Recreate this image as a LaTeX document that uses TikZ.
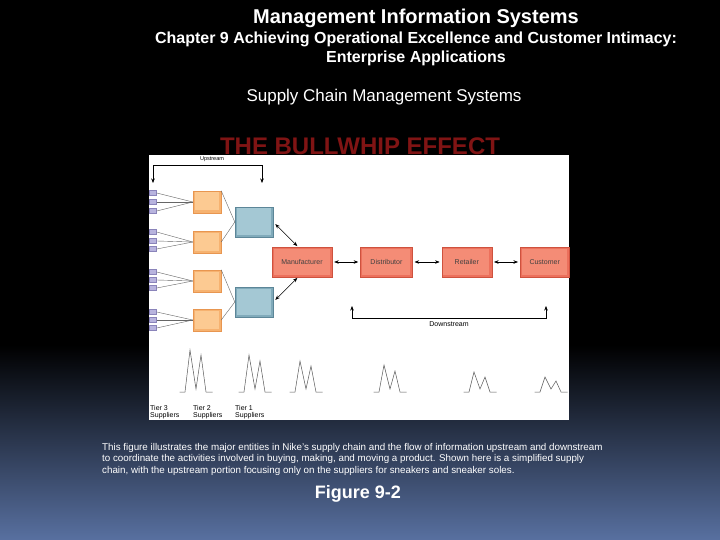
\documentclass[tikz,border=0pt]{standalone}
\usepackage{fontspec}
\setmainfont{Liberation Sans}
\usetikzlibrary{
    positioning,
    arrows.meta
}
\definecolor{partedge}{RGB}{138,132,186}
\definecolor{partfill}{RGB}{184,180,222}
\definecolor{supedge}{RGB}{232,150,80}
\definecolor{supfill}{RGB}{246,178,112}
\definecolor{supface}{RGB}{252,202,146}
\definecolor{makeedge}{RGB}{92,134,152}
\definecolor{makefill}{RGB}{128,170,186}
\definecolor{makeface}{RGB}{164,200,212}
\definecolor{chainedge}{RGB}{206,82,62}
\definecolor{chainfill}{RGB}{236,112,92}
\definecolor{chainface}{RGB}{244,140,118}
\definecolor{slidebottom}{RGB}{88,112,160}
\definecolor{bullred}{RGB}{128,20,20}
\tikzset{bevel/.style n args={3}{
    draw=#1,
    fill=#2,
    inner sep=0pt,
    path picture={\fill[#3]
        ([shift={(1.5pt,-1.5pt)}]path picture bounding box.north west) rectangle
        ([shift={(-2.5pt,2.5pt)}]path picture bounding box.south east);}
}}
\tikzset{arrow/.style={<->,>={Stealth[length=4.5pt,width=3.5pt]},line width=0.5pt}}

\begin{document}
\begin{tikzpicture}[
            x=1pt, y=-1pt,
            font=\fontsize{7}{7.5}\selectfont,
            part/.style={draw=partedge, fill=partfill, minimum width=7pt, minimum height=5pt, inner sep=0pt},
            supplier/.style={bevel={supedge}{supfill}{supface}, minimum width=28pt, minimum height=22pt},
            maker/.style={bevel={makeedge}{makefill}{makeface}, minimum width=38pt, minimum height=30pt},
            stage/.style={bevel={chainedge}{chainfill}{chainface}, minimum height=30pt, text=black!75},
            link/.style={draw=black!60, line width=0.4pt},
            wave/.style={draw=black!65, line width=0.5pt},
            slide/.style={text=white, align=center},
    ]
        \useasboundingbox (0,0) rectangle (720,540);

        % slide background
        \fill[black] (0,0) rectangle (720,346);
        \shade[top color=black, bottom color=slidebottom] (0,345) rectangle (720,540);

        % headings
        \node[slide, font=\bfseries\fontsize{20}{22}\selectfont] (title) at (416,18) {Management Information Systems};
        \node[slide, font=\bfseries\fontsize{16}{19}\selectfont] (chapter) at (416,48.5)
            {Chapter 9 Achieving Operational Excellence and Customer Intimacy:\\Enterprise Applications};
        \node[slide, font=\fontsize{17}{19}\selectfont] (section) at (384,97) {Supply Chain Management Systems};
        \node[text=bullred, font=\bfseries\fontsize{24}{26}\selectfont] (bullwhip) at (360,146) {THE BULLWHIP EFFECT};

        % figure panel
        \fill[white] (149,155) rectangle (569,420);

        % tier 1 and tier 2 suppliers
        \node[maker] (t1a) at (254,222) {};
        \node[maker] (t1b) at (254,302) {};
        \node[supplier] (t2a) at (207,202) {};
        \node[supplier] (t2b) at (207,242) {};
        \node[supplier] (t2c) at (207,281) {};
        \node[supplier] (t2d) at (207,320) {};

        % tier 3 suppliers
        \foreach \grp/\ya/\yb/\yc in {a/193/202/211, b/232/241/249, c/272/280/288, d/312/320/328} {
            \node[part] (t3\grp1) at (153,\ya) {};
            \node[part] (t3\grp2) at (153,\yb) {};
            \node[part] (t3\grp3) at (153,\yc) {};
            \draw[link] (t3\grp1.east) -- (t2\grp.west);
            \draw[link] (t3\grp2.east) -- (t2\grp.west);
            \draw[link] (t3\grp3.east) -- (t2\grp.west);
        }

        \draw[link] (t2a.north east) -- (t1a.west);
        \draw[link] (t2b.east) -- (t1a.west);
        \draw[link] (t2c.north east) -- (t1b.west);
        \draw[link] (t2d.east) -- (t1b.west);

        % downstream chain
        \node[stage, minimum width=60pt] (manufacturer) at (302,262) {Manufacturer};
        \node[stage, minimum width=52pt, right=28pt of manufacturer] (distributor) {Distributor};
        \node[stage, minimum width=50pt, right=29pt of distributor] (retailer) {Retailer};
        \node[stage, minimum width=49pt, right=28pt of retailer] (customer) {Customer};

        \draw[arrow, shorten <=2pt, shorten >=2pt] (manufacturer) -- (distributor);
        \draw[arrow, shorten <=2pt, shorten >=2pt] (distributor) -- (retailer);
        \draw[arrow, shorten <=2pt, shorten >=2pt] (retailer) -- (customer);
        \draw[arrow, shorten <=3pt, shorten >=1pt] (t1a.east) -- ([xshift=-4pt]manufacturer.north);
        \draw[arrow, shorten <=3pt, shorten >=1pt] (t1b.east) -- ([xshift=-4pt]manufacturer.south);

        % upstream and downstream brackets
        \coordinate (up-left) at (153,183);
        \coordinate (up-right) at (262,183);
        \draw[arrow] (up-left) -- ++(0,-18) -| (up-right);
        \node[font=\fontsize{5.5}{6}\selectfont] (upstream) at (212,159.5) {Upstream};

        \coordinate (down-left) at (352,306);
        \coordinate (down-right) at (546,306);
        \draw[arrow] (down-left) -- ++(0,12) -| (down-right);
        \node (downstream) at (449,324) {Downstream};

        % order swings
        \foreach \cx/\ha/\hb in {196/42/37, 255/37/31, 306/31/26, 390/27/21, 480/20/15, 551/15/11}
            \draw[wave] ({\cx-16.5},392) -- ({\cx-11},392) -- ({\cx-6},{392-\ha})
                -- (\cx,389) -- ({\cx+5},{392-\hb}) -- ({\cx+10},392) -- ({\cx+16.5},392);

        \node[anchor=north west, align=left, inner sep=0pt] (tier3) at (150,405) {Tier 3\\Suppliers};
        \node[anchor=north west, align=left, inner sep=0pt] (tier2) at (193,405) {Tier 2\\Suppliers};
        \node[anchor=north west, align=left, inner sep=0pt] (tier1) at (235,405) {Tier 1\\Suppliers};

        % caption
        \node[text=white, anchor=north west, align=left, inner sep=0pt, font=\fontsize{9.8}{11.5}\selectfont] (caption) at (102,443)
            {This figure illustrates the major entities in Nike's supply chain and the flow of information upstream and downstream\\
             to coordinate the activities involved in buying, making, and moving a product. Shown here is a simplified supply\\
             chain, with the upstream portion focusing only on the suppliers for sneakers and sneaker soles.};
        \node[slide, font=\bfseries\fontsize{18}{20}\selectfont] (figure) at (358,494) {Figure 9-2};

    \end{tikzpicture}
\end{document}
